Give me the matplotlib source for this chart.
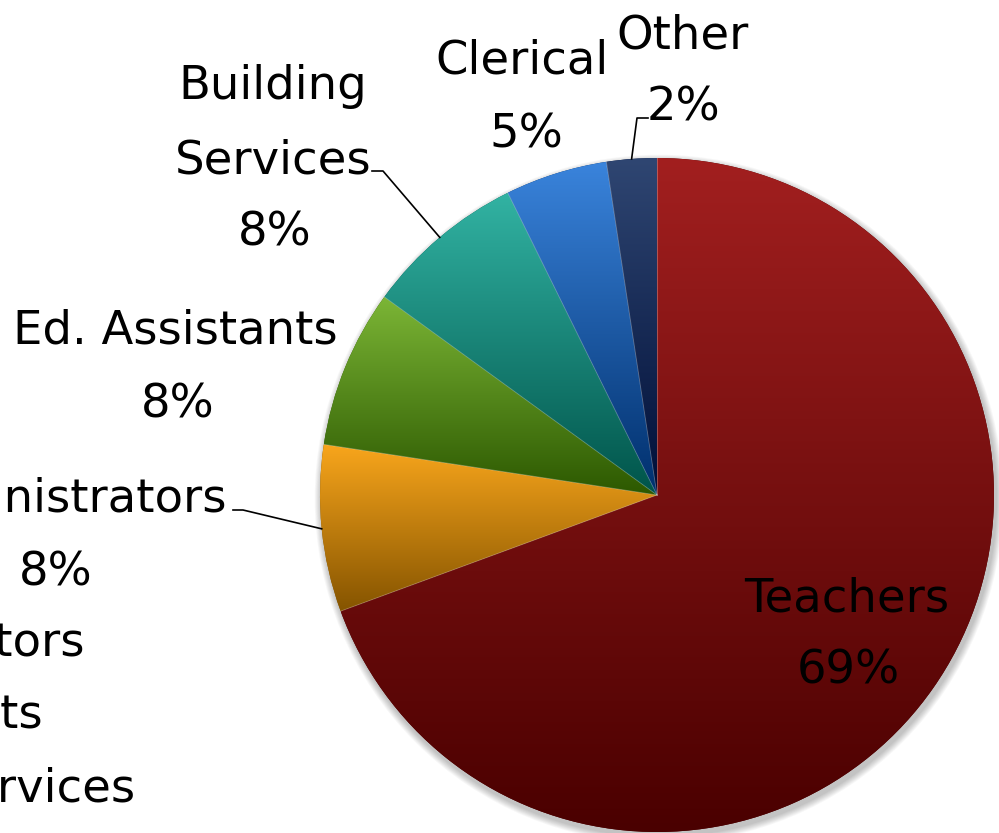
import numpy as np
import matplotlib
matplotlib.use("Agg")
import matplotlib.pyplot as plt
from matplotlib.colors import to_rgb
from matplotlib.patches import Circle

W, H = 999, 833

categories = ["Teachers", "Administrators", "Ed. Assistants",
              "Building Services", "Clerical", "Other"]
values = [69.4, 8.0, 7.6, 7.7, 4.9, 2.4]
top_colors = ["#a21f1f", "#f9a61c", "#7cb636", "#32b3a3", "#3a84dc", "#2f4672"]
bottom_colors = ["#4a0000", "#855400", "#2c5800", "#00544a", "#002f6c", "#000f38"]
legend_items = ["Administrators", "Ed. Assistants", "Building Services"]

cx, cy_px, R = 657, 495, 337

def Y(ypx):
    return H - ypx

fig = plt.figure(figsize=(W / 100, H / 100), dpi=100)
ax = fig.add_axes([0, 0, 1, 1])
ax.set_axis_off()

# soft shadow
for i in range(8):
    ax.add_patch(Circle((cx + 2, Y(cy_px) - 4), R + 1 + i * 0.9,
                        facecolor="black", edgecolor="none", alpha=0.03, zorder=0))

wedges, _ = ax.pie(values, startangle=90, counterclock=False,
                   center=(cx, Y(cy_px)), radius=R,
                   colors=bottom_colors,
                   wedgeprops=dict(linewidth=0, edgecolor="none"))

for w, ct, cb in zip(wedges, top_colors, bottom_colors):
    w.set_zorder(1)
    ext = w.get_path().get_extents()
    t = np.linspace(0, 1, 256)[:, None]
    a, b = np.array(to_rgb(ct)), np.array(to_rgb(cb))
    grad = (a[None, :] * (1 - t) + b[None, :] * t)[:, None, :]
    im = ax.imshow(grad, extent=[ext.x0, ext.x1, ext.y0, ext.y1],
                   origin="upper", aspect="auto", interpolation="bilinear",
                   zorder=2)
    im.set_clip_path(w)

# subtle separators
for w in wedges:
    th = np.deg2rad(w.theta1)
    ax.plot([cx, cx + R * np.cos(th)], [Y(cy_px), Y(cy_px) + R * np.sin(th)],
            color="white", alpha=0.3, lw=0.6, zorder=3)

def edge_point(w):
    mid = np.deg2rad((w.theta1 + w.theta2) / 2)
    return cx + R * np.cos(mid), Y(cy_px) + R * np.sin(mid)

pct = [f"{round(v):d}%" for v in values]
fs = 33.5
kw = dict(fontsize=fs, family="DejaVu Sans", ha="center", va="baseline",
          color="black", zorder=5)

# label placement (pixel centre x, baseline y for each line)
ax.text(847, Y(612), categories[0], **kw)
ax.text(848, Y(683), pct[0], **kw)

ax.text(56, Y(512), categories[1], **kw)
ax.text(56, Y(585), pct[1], **kw)

ax.text(175, Y(343), categories[2], **kw)
ax.text(178, Y(417), pct[2], **kw)

ax.text(273, Y(99), "Building", **kw)
ax.text(273, Y(173), "Services", **kw)
ax.text(275, Y(245), pct[3], **kw)

ax.text(522, Y(73), categories[4], **kw)
ax.text(526, Y(147), pct[4], **kw)

ax.text(683, Y(48), categories[5], **kw)
ax.text(684, Y(120), pct[5], **kw)

# leader lines
lk = dict(color="black", lw=1.2, zorder=4)
px, py_ = edge_point(wedges[1])
ax.plot([233, 243, px], [Y(510), Y(510), py_], **lk)
px, py_ = edge_point(wedges[3])
ax.plot([372, 383, px], [Y(171), Y(171), py_], **lk)
px, py_ = edge_point(wedges[5])
ax.plot([648, 637, px], [Y(118), Y(118), py_], **lk)

# partially visible legend at the left edge (cut off as in the reference)
for name, xr, yb in zip(legend_items, [85, 43, 135], [655, 728, 802]):
    ax.text(xr, Y(yb), name, fontsize=fs, family="DejaVu Sans",
            ha="right", va="baseline", color="black", zorder=5)

ax.set_xlim(0, W)
ax.set_ylim(0, H)

fig.savefig("out.png", dpi=100, facecolor="white")
